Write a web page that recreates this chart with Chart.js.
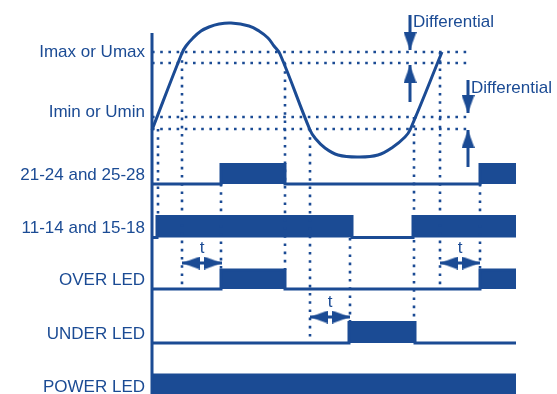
<!DOCTYPE html>
<html>
<head>
<meta charset="utf-8">
<script src="https://cdn.jsdelivr.net/npm/chart.js@4.4.0/dist/chart.umd.min.js"></script>
<style>
  html, body { margin: 0; padding: 0; background: #fff; }
  canvas { display: block; }
</style>
</head>
<body>
<canvas id="timing" width="557" height="394"></canvas>
<script>
// time runs left to right (0 = start), levels in arbitrary units (0 = bottom)
const rowLabels = ["Imax or Umax", "Imin or Umin", "21-24 and 25-28", "11-14 and 15-18", "OVER LED", "UNDER LED", "POWER LED"];
const labelLevels = [342, 282, 219, 166, 114, 60, 7];

// thresholds (upper / lower line of each differential band)
const imaxLevels = [342, 331];
const iminLevels = [277, 265];
const thresholdEnd = 317;

// measured current / voltage
const signalTime = [0, 30, 34, 41, 49, 57, 67, 79, 97, 107, 116, 122, 128, 158, 163, 173, 186, 206, 226, 241, 253, 258, 290];
const signalLevel = [264, 341, 348, 356, 363, 367, 370, 371, 368, 363, 356, 348, 340, 264, 256, 246, 239, 237, 239, 247, 257, 264, 342];

// contact and LED states: [time, state]
const relay2124 = [[0, 0], [69, 1], [133, 0], [328, 1], [364, 1]];
const relay1114 = [[0, 0], [5, 1], [200, 0], [261, 1], [364, 1]];
const overLed = [[0, 0], [69, 1], [133, 0], [328, 1], [364, 1]];
const underLed = [[0, 0], [197, 1], [263, 0], [364, 0]];
const powerLed = [[0, 1], [364, 1]];

// vertical guide lines
const guideTimes = [6, 30, 69, 133, 158, 198, 262, 288, 328];
const guideFrom = [265, 342, 210, 331, 265, 156, 277, 342, 210];
const guideTo = [177, 105, 124, 124, 51, 71, 71, 105, 124];

// differential arrows: [tail, tip]
const diffTimes = [258, 316];
const diffDown = [[379, 344], [314, 281]];
const diffUp = [[292, 329], [227, 264]];
const diffLabels = [[261, 372], [319, 306]];

// delay t arrows
const delayStart = [30, 158, 288];
const delayEnd = [70, 198, 328];
const delayLevel = [131, 77, 131];

const blue = "#1b4b94";
const fontFamily = '"Liberation Sans", Arial, Helvetica, sans-serif';

// arrow head image, tip at the centre so it sits on the data point
const arrowHead = document.createElement("canvas");
arrowHead.width = 13;
arrowHead.height = 36;
const ah = arrowHead.getContext("2d");
ah.fillStyle = blue;
ah.beginPath();
ah.moveTo(0, 0);
ah.lineTo(13, 0);
ah.lineTo(6.5, 18);
ah.closePath();
ah.fill();

const datasets = [];

function addLine(points, extra) {
  datasets.push(Object.assign({
    data: points.map(p => ({ x: p[0], y: p[1] })),
    borderColor: blue,
    backgroundColor: blue,
    borderWidth: 3,
    pointRadius: 0,
    tension: 0,
    fill: false,
    clip: false
  }, extra || {}));
}

function stepPoints(states, low, high) {
  const pts = [];
  states.forEach((s, i) => {
    if (i > 0) pts.push([s[0], states[i - 1][1] ? high : low]);
    pts.push([s[0], s[1] ? high : low]);
  });
  return pts;
}

// vertical axis
addLine([[0, 361], [0, -5]]);

// dotted thresholds
imaxLevels.concat(iminLevels).forEach(lvl => {
  addLine([[0, lvl], [thresholdEnd, lvl]], { borderWidth: 2.6, borderDash: [2.6, 5.6] });
});

// dotted guides
guideTimes.forEach((t, i) => {
  addLine([[t, guideFrom[i]], [t, guideTo[i]]], { borderWidth: 2.6, borderDash: [2.6, 5.6] });
});

// signal
addLine(signalTime.map((t, i) => [t, signalLevel[i]]), { tension: 0.4, capBezierPoints: false });

// digital rows
addLine(stepPoints(relay2124, 210, 229.5), { fill: { value: 210 } });
addLine(stepPoints(relay1114, 156.5, 177.5), { fill: { value: 156.5 } });
addLine(stepPoints(overLed, 105, 124), { fill: { value: 105 } });
addLine(stepPoints(underLed, 51, 71.5), { fill: { value: 51 } });
addLine(stepPoints(powerLed, -5, 19), { fill: { value: -5 } });

// differential arrows
diffTimes.forEach((t, i) => {
  addLine([[t, diffDown[i][0]], [t, diffDown[i][1]]], { pointRadius: [0, 1], pointStyle: arrowHead, pointRotation: [0, 0] });
  addLine([[t, diffUp[i][0]], [t, diffUp[i][1]]], { pointRadius: [0, 1], pointStyle: arrowHead, pointRotation: [0, 180] });
});

// delay arrows
delayStart.forEach((s, i) => {
  addLine([[s, delayLevel[i]], [delayEnd[i], delayLevel[i]]], { pointRadius: [1, 1], pointStyle: arrowHead, pointRotation: [90, 270] });
});

const textPlugin = {
  id: "diagramText",
  afterDatasetsDraw(chart) {
    const { ctx, chartArea, scales: { x, y } } = chart;
    ctx.save();
    ctx.fillStyle = blue;
    ctx.font = "17px " + fontFamily;
    ctx.textBaseline = "middle";

    ctx.textAlign = "right";
    rowLabels.forEach((label, i) => {
      ctx.fillText(label, chartArea.left - 7, y.getPixelForValue(labelLevels[i]));
    });

    ctx.textAlign = "left";
    diffLabels.forEach(p => {
      ctx.fillText("Differential", x.getPixelForValue(p[0]), y.getPixelForValue(p[1]));
    });

    ctx.textAlign = "center";
    delayStart.forEach((s, i) => {
      ctx.fillText("t", x.getPixelForValue((s + delayEnd[i]) / 2), y.getPixelForValue(delayLevel[i] + 15));
    });
    ctx.restore();
  }
};

new Chart(document.getElementById("timing"), {
  type: "line",
  data: { datasets: datasets },
  options: {
    responsive: false,
    animation: false,
    events: [],
    layout: { padding: { left: 152, right: 0, top: 0, bottom: 0 }, autoPadding: false },
    scales: {
      x: { type: "linear", min: 0, max: 405, display: false },
      y: { type: "linear", min: 0, max: 394, display: false }
    },
    plugins: {
      legend: { display: false },
      tooltip: { enabled: false }
    }
  },
  plugins: [textPlugin]
});
</script>
</body>
</html>
